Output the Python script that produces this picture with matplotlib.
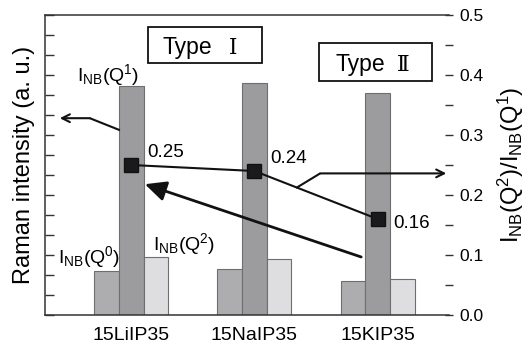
import matplotlib
matplotlib.use("Agg")
import matplotlib.pyplot as plt
from matplotlib.patches import Rectangle, FancyArrowPatch
import numpy as np

plt.rcParams['font.family'] = ['Liberation Sans', 'DejaVu Sans']
plt.rcParams['mathtext.fontset'] = 'custom'
plt.rcParams['mathtext.rm'] = 'Liberation Sans'
plt.rcParams['mathtext.it'] = 'Liberation Sans:italic'
plt.rcParams['mathtext.bf'] = 'Liberation Sans:bold'

# ---- data ----
samples = ["15LiIP35", "15NaIP35", "15KIP35"]
q0 = [2.2, 2.3, 1.7]        # I_NB(Q0), a.u.
q1 = [11.45, 11.6, 11.1]    # I_NB(Q1), a.u.
q2 = [2.89, 2.78, 1.78]     # I_NB(Q2), a.u.
ratio = [0.25, 0.24, 0.16]  # I_NB(Q2)/I_NB(Q1)
ratio_labels = ["0.25", "0.24", "0.16"]
right_ticks = [0.0, 0.1, 0.2, 0.3, 0.4, 0.5]

W, H = 527, 345
fig = plt.figure(figsize=(W / 100, H / 100), dpi=100)
ax = fig.add_axes([45 / W, 30 / H, 404 / W, 300 / H])

x = np.arange(len(samples))
bw = 0.2
c0, c1, c2 = "#adadaf", "#9c9c9e", "#dedee0"
ec = "#6e6e6e"
ax.bar(x - bw, q0, bw, color=c0, edgecolor=ec, linewidth=0.8, zorder=2)
ax.bar(x, q1, bw, color=c1, edgecolor=ec, linewidth=0.8, zorder=2)
ax.bar(x + bw, q2, bw, color=c2, edgecolor=ec, linewidth=0.8, zorder=2)

ax.set_xlim(-0.70, 2.58)
ax.set_ylim(0, 15)
ax.set_yticks(np.arange(0, 16, 1))
ax.tick_params(axis='y', direction='in', length=6.5, width=1.0, labelleft=False, color="#333333")
ax.set_xticks(x)
ax.set_xticklabels(samples, fontsize=14)
ax.tick_params(axis='x', length=0, pad=9)
ax.spines['right'].set_visible(False)
for s in ['top', 'left', 'bottom']:
    ax.spines[s].set_linewidth(1.1)
    ax.spines[s].set_color("#333333")
ax.set_ylabel("Raman intensity (a. u.)", fontsize=17)
ax.yaxis.set_label_coords(-0.025, 0.5)

ax2 = ax.twinx()
for s in ax2.spines.values():
    s.set_visible(False)
ax2.set_ylim(0, 0.5)
ax2.set_yticks(right_ticks)
ax2.set_yticks(np.arange(0.05, 0.5, 0.1), minor=True)
ax2.set_yticklabels([f"{v:.1f}" for v in right_ticks], fontsize=12.5)
ax2.tick_params(axis='y', which='both', direction='inout', length=6, width=1.0, pad=4.5, color="#333333")
ax2.set_ylabel(r"I$_\mathrm{NB}$(Q$^2$)/I$_\mathrm{NB}$(Q$^1$)", fontsize=17)
ax2.yaxis.set_label_coords(1.115, 0.5)

ax2.plot(x, ratio, '-', color="#111111", lw=1.5, marker='s', markersize=9.5,
         markerfacecolor="#1a1a1a", markeredgecolor="#111111", zorder=5)
offs = [(0.127, 0.263 - 0.25), (0.127, 0.253 - 0.24), (0.127, 0.1445 - 0.16)]
for xi, r, lab, (dx, dy) in zip(x, ratio, ratio_labels, offs):
    ax2.text(xi + dx, r + dy, lab, fontsize=13.5, ha='left', va='baseline')

# labels for bars
ax2.text(-0.442, 0.39, r"I$_\mathrm{NB}$(Q$^1$)", fontsize=14, ha='left', va='baseline')
ax2.text(-0.596, 0.0867, r"I$_\mathrm{NB}$(Q$^0$)", fontsize=14, ha='left', va='baseline')
ax2.text(0.177, 0.108, r"I$_\mathrm{NB}$(Q$^2$)", fontsize=14, ha='left', va='baseline')

# Type boxes
serif = ['DejaVu Serif', 'Liberation Serif']
ax2.add_patch(Rectangle((0.136, 0.42), 0.927, 0.06, fill=False, lw=1.3, edgecolor="#111111", zorder=6))
ax2.text(0.258, 0.4345, "Type", fontsize=16.5, ha='left', va='baseline', zorder=7)
ax2.text(0.795, 0.4345, "Ⅰ", fontsize=15.5, ha='left', va='baseline', zorder=7, family=serif)
ax2.add_patch(Rectangle((1.526, 0.39), 0.919, 0.0633, fill=False, lw=1.3, edgecolor="#111111", zorder=6))
ax2.text(1.656, 0.4067, "Type", fontsize=16.5, ha='left', va='baseline', zorder=7)
ax2.text(2.155, 0.4067, "Ⅱ", fontsize=15.5, ha='left', va='baseline', zorder=7, family=serif)

# left-pointing arrow
ax2.plot([-0.092, -0.336], [0.308, 0.328], color="#111111", lw=1.5, solid_capstyle='butt')
ax2.annotate("", xy=(-0.580, 0.328), xytext=(-0.336, 0.328),
             arrowprops=dict(arrowstyle="->", lw=1.5, color="#111111",
                             shrinkA=0, shrinkB=0, mutation_scale=14))
# right-pointing arrow
ax2.plot([1.339, 1.534], [0.2117, 0.236], color="#111111", lw=1.5, solid_capstyle='butt')
ax2.annotate("", xy=(2.558, 0.236), xytext=(1.534, 0.236),
             arrowprops=dict(arrowstyle="->", lw=1.5, color="#111111",
                             shrinkA=0, shrinkB=0, mutation_scale=14))
# big filled arrow
arr = FancyArrowPatch((1.867, 0.0967), (0.111, 0.218),
                      arrowstyle="-|>,head_length=0.8,head_width=0.38",
                      mutation_scale=16, lw=2.0, color="#111111",
                      shrinkA=0, shrinkB=0, zorder=6)
ax2.add_patch(arr)

fig.savefig("out.png", dpi=100)
